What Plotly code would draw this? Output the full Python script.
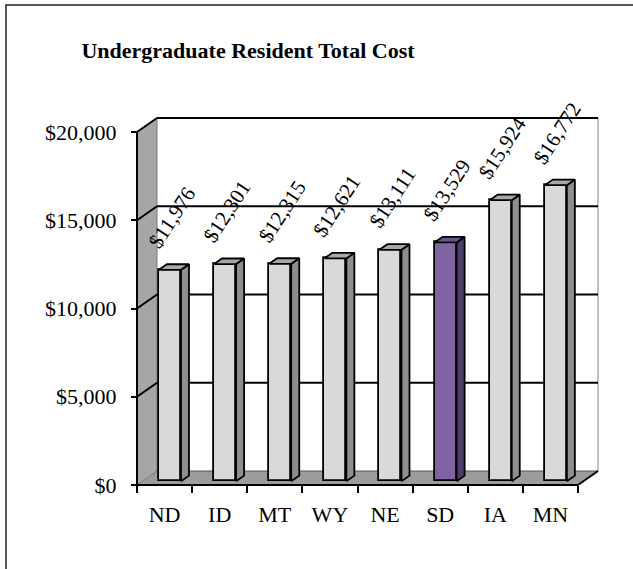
import plotly.graph_objects as go

# ---------------- data ----------------
states = ["ND", "ID", "MT", "WY", "NE", "SD", "IA", "MN"]
costs = [11976, 12301, 12315, 12621, 13111, 13529, 15924, 16772]
highlight_state = "SD"
y_tick_values = [0, 5000, 10000, 15000, 20000]
title_text = "Undergraduate Resident Total Cost"

# ---------------- layout geometry (pixels) ----------------
W, H = 633, 569
ML, MR, MT, MB = 110, 20, 95, 70
X0_PX = 137.0        # left end of category axis
CAT_PX = 55.125      # width of one category
Y0_PX = 485.0        # pixel of value 0
YTOP = 20000
YTOP_PX = 132.0      # pixel of value 20000
WALL_DX_PX, WALL_DY_PX = 20.0, 14.0   # 3-D depth offset of back wall
BAR_F0, BAR_DEPTH = 0.27, 0.40        # bar depth position (fraction of wall depth)
BAR_W = 0.40

pxv = (Y0_PX - YTOP_PX) / YTOP                 # pixels per value unit
plot_w = W - ML - MR
plot_h = H - MT - MB
x_range = [-0.5 - (X0_PX - ML) / CAT_PX, -0.5 + (W - MR - X0_PX) / CAT_PX]
y_range = [-(H - MB - Y0_PX) / pxv, (Y0_PX - MT) / pxv]
DXu = WALL_DX_PX / CAT_PX      # depth offset in x units
DYv = WALL_DY_PX / pxv         # depth offset in value units

n = len(states)
xl, xr = -0.5, n - 0.5

FONT = "Liberation Serif, Times New Roman, serif"
front_gray, side_gray, top_gray = "#d9d9d9", "#8e8e8e", "#a8a8a8"
front_pur, side_pur, top_pur = "#8064a2", "#4e3c69", "#6a5490"

fig = go.Figure()

# front faces of bars
xs = [i + BAR_F0 * DXu for i in range(n)]
front_cols = [front_pur if s == highlight_state else front_gray for s in states]
fig.add_trace(go.Bar(
    x=xs, y=costs, base=[BAR_F0 * DYv] * n, width=BAR_W,
    marker=dict(color=front_cols, line=dict(color="black", width=1.8)),
    hoverinfo="skip", showlegend=False))

# side and top faces
ddx, ddy = BAR_DEPTH * DXu, BAR_DEPTH * DYv
for i, (s, v) in enumerate(zip(states, costs)):
    x_l = xs[i] - BAR_W / 2
    x_r = xs[i] + BAR_W / 2
    b = BAR_F0 * DYv
    t = v + b
    sc = side_pur if s == highlight_state else side_gray
    tc = top_pur if s == highlight_state else top_gray
    fig.add_trace(go.Scatter(
        x=[x_r, x_r, x_r + ddx, x_r + ddx, x_r], y=[b, t, t + ddy, b + ddy, b],
        mode="lines", fill="toself", fillcolor=sc,
        line=dict(color="black", width=1.8), hoverinfo="skip", showlegend=False))
    fig.add_trace(go.Scatter(
        x=[x_l, x_r, x_r + ddx, x_l + ddx, x_l], y=[t, t, t + ddy, t + ddy, t],
        mode="lines", fill="toself", fillcolor=tc,
        line=dict(color="black", width=1.8), hoverinfo="skip", showlegend=False))

shapes = []
# left wall
shapes.append(dict(type="path", layer="below", xref="x", yref="y",
                   path=f"M{xl},0 L{xl},{YTOP} L{xl+DXu},{YTOP+DYv} L{xl+DXu},{DYv} Z",
                   fillcolor="#a6a6a6", line=dict(width=0)))
# floor
shapes.append(dict(type="path", layer="below", xref="x", yref="y",
                   path=f"M{xl},0 L{xr},0 L{xr+DXu},{DYv} L{xl+DXu},{DYv} Z",
                   fillcolor="#9c9c9c", line=dict(width=0)))
# left wall back edge
shapes.append(dict(type="line", layer="below", x0=xl + DXu, x1=xl + DXu, y0=DYv, y1=YTOP + DYv,
                   line=dict(color="#7a7a7a", width=1)))
# floor left diagonal
shapes.append(dict(type="line", layer="below", x0=xl, x1=xl + DXu, y0=0, y1=DYv,
                   line=dict(color="#7a7a7a", width=1)))
# back wall right edge
shapes.append(dict(type="line", layer="below", x0=xr + DXu, x1=xr + DXu, y0=DYv, y1=YTOP + DYv,
                   line=dict(color="#8a8a8a", width=1)))
# gridlines (diagonal on side wall + back wall)
for v in y_tick_values:
    if v == 0:
        shapes.append(dict(type="line", layer="below", x0=xl + DXu, x1=xr + DXu, y0=DYv, y1=DYv,
                           line=dict(color="#555555", width=1)))
        continue
    shapes.append(dict(type="line", layer="below", x0=xl, x1=xl + DXu, y0=v, y1=v + DYv,
                       line=dict(color="black", width=2)))
    shapes.append(dict(type="line", layer="below", x0=xl + DXu, x1=xr + DXu, y0=v + DYv, y1=v + DYv,
                       line=dict(color="black", width=2)))
# front floor edge, floor right diagonal, value axis line
shapes.append(dict(type="line", layer="below", x0=xl, x1=xr, y0=0, y1=0,
                   line=dict(color="black", width=2)))
shapes.append(dict(type="line", layer="below", x0=xr, x1=xr + DXu, y0=0, y1=DYv,
                   line=dict(color="black", width=2)))
shapes.append(dict(type="line", layer="below", x0=xl, x1=xl, y0=0, y1=YTOP,
                   line=dict(color="black", width=2)))
# outer chart frame (extends beyond the visible window on right/bottom)
fx0 = (6 - ML) / plot_w
fy1 = 1 + (MT - 5) / plot_h
shapes.append(dict(type="rect", xref="paper", yref="paper", x0=fx0, x1=1.2, y0=-0.3, y1=fy1,
                   line=dict(color="#222222", width=1.5), fillcolor="rgba(0,0,0,0)"))

# data labels
annotations = []
for i, v in enumerate(costs):
    annotations.append(dict(x=i, y=v, xref="x", yref="y", text=f"${v:,}", showarrow=False,
                            textangle=-57, xshift=7, yshift=56,
                            font=dict(family=FONT, size=21, color="black")))

fig.update_layout(
    width=W, height=H,
    margin=dict(l=ML, r=MR, t=MT, b=MB, pad=0),
    paper_bgcolor="white", plot_bgcolor="white",
    title=dict(text=f"<b>{title_text}</b>", x=248 / W, xanchor="center",
               y=1 - 50 / H, yanchor="middle",
               font=dict(family=FONT, size=22, color="black")),
    xaxis=dict(range=x_range, anchor="free", position=(H - MB - Y0_PX) / plot_h,
               tickmode="array", tickvals=list(range(n)), ticktext=states, ticks="",
               ticklabelstandoff=14,
               minor=dict(tickmode="array", tickvals=[k - 0.5 for k in range(n + 1)],
                          ticks="outside", ticklen=7, tickwidth=1.5, tickcolor="black"),
               showgrid=False, zeroline=False, showline=False,
               tickfont=dict(family=FONT, size=22, color="black")),
    yaxis=dict(range=y_range, anchor="free", position=(X0_PX - ML) / plot_w,
               tickmode="array", tickvals=y_tick_values,
               ticktext=[f"${v:,}" for v in y_tick_values],
               ticks="outside", ticklen=6, tickwidth=1.5, tickcolor="black",
               ticklabelstandoff=10,
               showgrid=False, zeroline=False, showline=False,
               tickfont=dict(family=FONT, size=22, color="black")),
    shapes=shapes, annotations=annotations,
    showlegend=False, bargap=0,
)

fig.write_html("out.html", config={"displayModeBar": False},
               post_script="document.body.style.margin='0px';")
